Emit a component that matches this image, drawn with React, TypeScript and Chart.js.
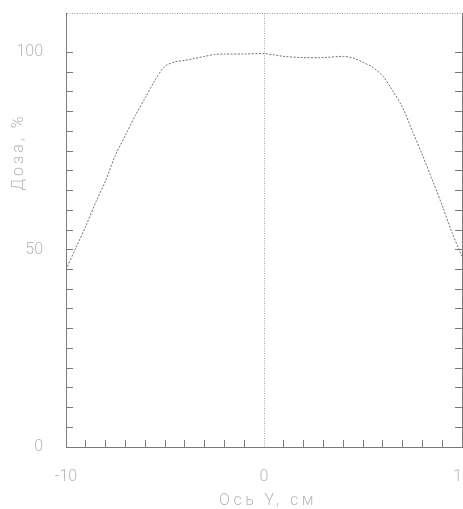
import React, { useEffect, useRef } from "react";
import { Chart, registerables } from "chart.js";

Chart.register(...registerables);

const xValues = [-10, -9.5, -9, -8.5, -8, -7.5, -7, -6.5, -6, -5.5, -5, -4.5, -4, -3.5, -3, -2.5, -2, -1, 0, 0.5, 1, 2, 3, 4, 4.5, 5, 5.5, 6, 6.5, 7, 7.5, 8, 8.5, 9, 9.5, 10];
const doseValues = [45, 50.5, 56, 62, 67.5, 74, 79, 84, 88.5, 93, 96.5, 97.6, 98, 98.5, 99, 99.5, 99.6, 99.6, 99.7, 99.4, 99, 98.7, 98.7, 99, 98.6, 97.5, 96.2, 94, 90.3, 86, 80, 74, 67.7, 61.2, 54.3, 48.3];
const xTickLabels = [-10, 0, 10];
const yTickLabels = [0, 50, 100];
const X_TITLE = "Ось Y, см";
const Y_TITLE = "Доза, %";

const FONT = "Roboto, 'DejaVu Sans', sans-serif";
const TEXT_COLOR = "#b8b8b8";
const AXIS_COLOR = "#7a7a7a";

const titlePlugin = {
  id: "axisTitlesCustom",
  afterDraw(chart: any) {
    const ctx = chart.ctx as CanvasRenderingContext2D;
    const xs = chart.scales.x;
    ctx.save();
    ctx.fillStyle = TEXT_COLOR;
    ctx.font = `300 16px ${FONT}`;
    (ctx as any).letterSpacing = "3.5px";
    ctx.textAlign = "center";
    ctx.textBaseline = "middle";
    ctx.fillText(X_TITLE, (xs.left + xs.right) / 2 + 4, 501);
    ctx.translate(19, 154);
    ctx.rotate(-Math.PI / 2);
    (ctx as any).letterSpacing = "3px";
    ctx.fillText(Y_TITLE, 2, 0);
    ctx.restore();
  },
};

const zeroPadding = (s: any) => {
  s.paddingTop = 0;
  s.paddingBottom = 0;
  s.paddingLeft = 0;
  s.paddingRight = 0;
};

export default function App() {
  const canvasRef = useRef<HTMLCanvasElement | null>(null);

  useEffect(() => {
    if (!canvasRef.current) return;
    const data = xValues.map((x, i) => ({ x, y: doseValues[i] }));
    const tickFont = { family: FONT, size: 16, weight: "300" as any };
    const chart = new Chart(canvasRef.current, {
      type: "line",
      data: {
        datasets: [
          {
            data,
            borderColor: "#707070",
            borderWidth: 1,
            borderDash: [2, 1.5],
            pointRadius: 0,
            tension: 0.3,
            fill: false,
          },
        ],
      },
      options: {
        animation: false,
        responsive: false,
        devicePixelRatio: 1,
        layout: { padding: { top: 13, left: 0, right: 0, bottom: 0 } },
        plugins: { legend: { display: false }, tooltip: { enabled: false } },
        scales: {
          x: {
            type: "linear",
            position: "bottom",
            min: -10,
            max: 10,
            afterFit: (s: any) => {
              s.height = 62;
              zeroPadding(s);
            },
            ticks: {
              stepSize: 1,
              autoSkip: false,
              maxRotation: 0,
              padding: 27,
              color: TEXT_COLOR,
              font: tickFont,
              callback: (v: any) => (xTickLabels.includes(Number(v)) ? String(v) : ""),
            },
            grid: {
              drawOnChartArea: true,
              tickLength: -7,
              lineWidth: 1,
              color: (c: any) => (c.tick && c.tick.value === 0 ? "#a8a8a8" : "transparent"),
              tickColor: (c: any) => {
                const v = c.tick ? c.tick.value : 0;
                return v > -10 && v < 10 && v !== 0 ? AXIS_COLOR : "transparent";
              },
            },
            border: { color: AXIS_COLOR, width: 1, dash: [1, 1.5] },
          },
          y: {
            type: "linear",
            position: "left",
            min: 0,
            max: 110,
            afterFit: (s: any) => {
              s.width = 66;
              zeroPadding(s);
            },
            ticks: {
              stepSize: 5,
              autoSkip: false,
              padding: 30,
              color: TEXT_COLOR,
              font: tickFont,
              callback: (v: any) => (yTickLabels.includes(Number(v)) ? String(v) : ""),
            },
            grid: {
              drawOnChartArea: true,
              tickLength: -7,
              lineWidth: 1,
              color: (c: any) => (c.tick && c.tick.value === 110 ? "#9a9a9a" : "transparent"),
              tickColor: (c: any) => {
                const v = c.tick ? c.tick.value : 0;
                return v > 0 && v <= 100 ? AXIS_COLOR : "transparent";
              },
            },
            border: { color: AXIS_COLOR, width: 1, dash: [1, 1.5] },
          },
          y2: {
            type: "linear",
            position: "right",
            min: 0,
            max: 110,
            afterFit: (s: any) => {
              s.width = 28;
              zeroPadding(s);
            },
            ticks: { stepSize: 5, autoSkip: false, display: false },
            grid: {
              drawOnChartArea: false,
              tickLength: -7,
              lineWidth: 1,
              tickColor: (c: any) => {
                const v = c.tick ? c.tick.value : 0;
                return v > 0 && v <= 100 ? AXIS_COLOR : "transparent";
              },
            },
            border: { color: AXIS_COLOR, width: 1 },
          },
        },
      },
      plugins: [titlePlugin],
    });
    return () => chart.destroy();
  }, []);

  return (
    <div
      style={{
        position: "fixed",
        left: 0,
        top: 0,
        width: 463,
        height: 509,
        overflow: "hidden",
        background: "#fff",
      }}
    >
      <canvas ref={canvasRef} width={490} height={509} style={{ width: 490, height: 509, display: "block" }} />
    </div>
  );
}
